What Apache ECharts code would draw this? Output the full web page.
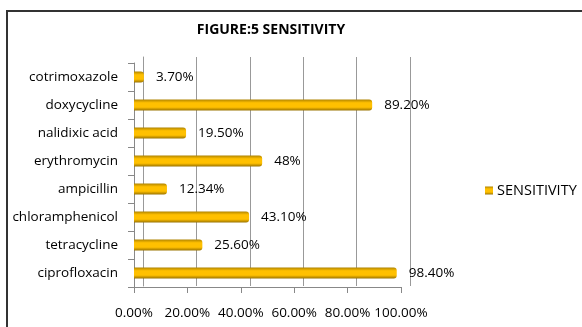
<!DOCTYPE html>
<html>
<head>
<meta charset="utf-8">
<script src="https://cdn.jsdelivr.net/npm/echarts@6/dist/echarts.min.js"></script>
<style>html,body{margin:0;padding:0;background:#fff;}#main{width:582px;height:327px;}</style>
</head>
<body>
<div id="main"></div>
<script>
var drugs = ['ciprofloxacin','tetracycline','chloramphenicol','ampicillin','erythromycin','nalidixic acid','doxycycline','cotrimoxazole'];
var sensitivity = [98.4, 25.6, 43.1, 12.34, 48, 19.5, 89.2, 3.7];
var valueLabels = ['98.40%','25.60%','43.10%','12.34%','48%','19.50%','89.20%','3.70%'];
var ticks = [0, 20, 40, 60, 80, 100];

var font = '"Open Sans", sans-serif';
var chart = echarts.init(document.getElementById('main'));
chart.setOption({
    animation:false,
    title:{text:'FIGURE:5 SENSITIVITY',left:266,top:18,textAlign:'center',
        textStyle:{fontFamily:font,fontSize:14,fontWeight:'bold',color:'#000'}},
    graphic:[{type:'rect',shape:{x:7,y:11,width:600,height:340},style:{fill:'none',stroke:'#333',lineWidth:2}}],
    legend:{data:['SENSITIVITY'],left:480,top:178,itemWidth:8,itemHeight:8,itemGap:4,icon:'rect',
        textStyle:{fontFamily:font,fontSize:14.5,color:'#000',padding:[0,0,0,-1]}},
    grid:[{left:134,right:181,top:63,height:224},{left:143,right:172,top:57,height:229}],
    xAxis:[{gridIndex:0,type:'value',min:0,max:100,interval:20,
        axisLine:{show:true,lineStyle:{color:'#888'}},axisTick:{show:true,length:6,lineStyle:{color:'#888'}},
        splitLine:{show:false},
        axisLabel:{margin:19,fontFamily:font,fontSize:13.5,color:'#000',formatter:function(v){return v.toFixed(2)+'%';}}},
        {gridIndex:1,type:'value',min:0,max:100,interval:20,axisLine:{show:false},axisTick:{show:false},axisLabel:{show:false},
        splitLine:{show:true,lineStyle:{color:'#999',width:1}}}],
    yAxis:[{gridIndex:0,type:'category',data:drugs,axisLine:{show:true,lineStyle:{color:'#888'}},
        axisTick:{show:true,length:6,lineStyle:{color:'#888'}},
        axisLabel:{margin:16,fontFamily:font,fontSize:13.5,color:'#000'}},
        {gridIndex:1,type:'category',data:drugs,axisLine:{show:true,lineStyle:{color:'#999'}},axisTick:{show:false},axisLabel:{show:false}}],
    series:[{name:'SENSITIVITY',type:'bar',xAxisIndex:0,yAxisIndex:0,data:sensitivity,barWidth:11,
        itemStyle:{color:new echarts.graphic.LinearGradient(0,0,0,1,[
            {offset:0,color:'#b08400'},{offset:0.3,color:'#ffc000'},{offset:0.7,color:'#ffc000'},{offset:1,color:'#9a7300'}]),
            borderRadius:[0,3,3,0]},
        label:{show:true,position:'right',distance:12,fontFamily:font,fontSize:13.5,color:'#000',
            formatter:function(p){return valueLabels[p.dataIndex];}}}]
});
</script>
</body>
</html>
